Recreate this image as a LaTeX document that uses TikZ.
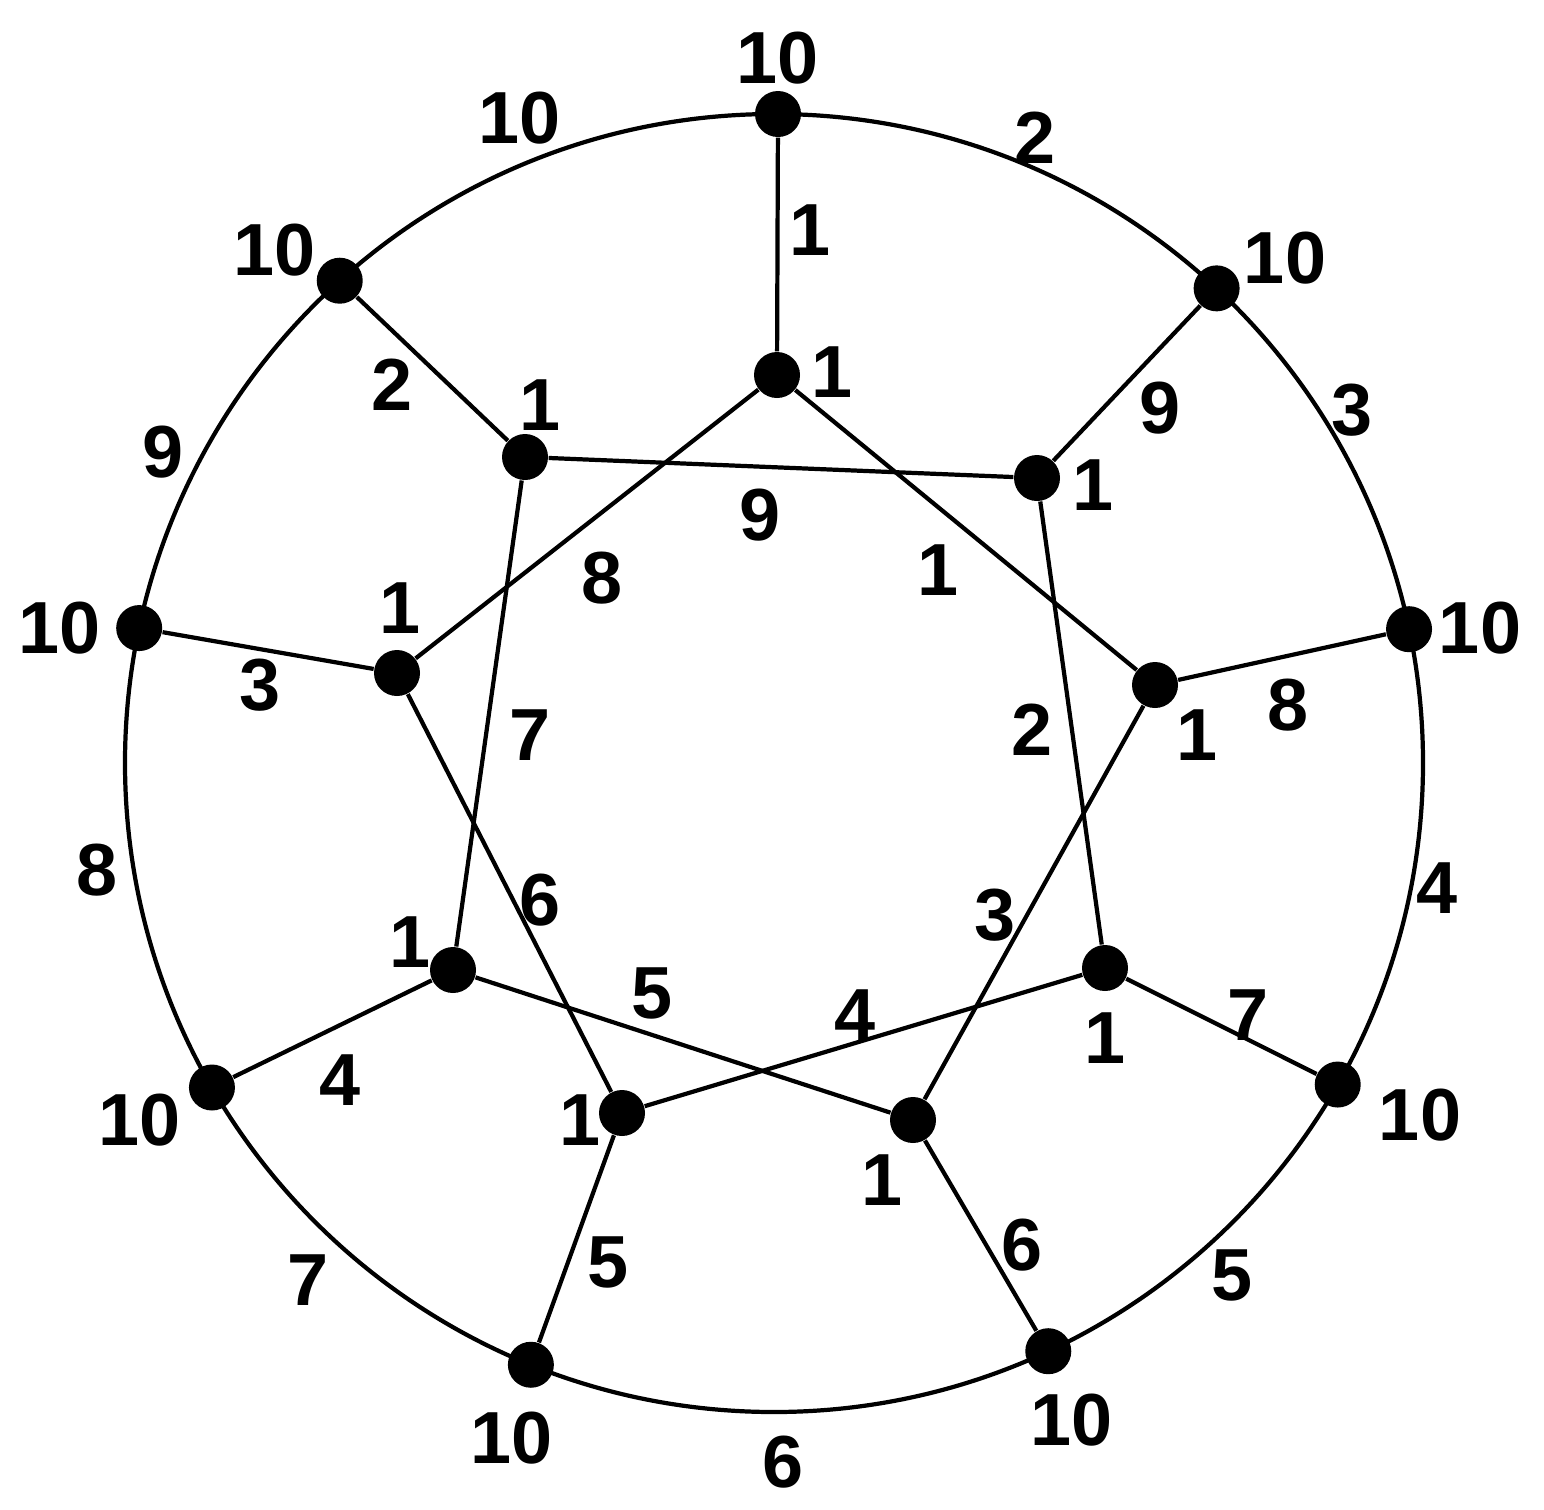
\documentclass[tikz,border=0pt]{standalone}
\usepackage{fontspec}
\setmainfont{Liberation Sans}
\usetikzlibrary{calc}
\begin{document}
\begin{tikzpicture}[
  dot/.style={circle,fill=black,inner sep=0pt,minimum size=0.46cm},
  lbl/.style={font=\fontsize{21}{25}\selectfont\bfseries,inner sep=0pt},
  edge/.style={line width=1.2pt}
]
\useasboundingbox (0,0) rectangle (15.44,-15.09);
\coordinate (c) at (7.74,-7.63);
\draw[edge] (c) circle (6.49);
% outer nodes
\node[dot] (o1) at (7.78,-1.14) {};
\node[dot] (o2) at ($(c)+(47:6.49)$) {};
\node[dot] (o3) at ($(c)+(11.9:6.49)$) {};
\node[dot] (o4) at ($(c)+(-29.7:6.49)$) {};
\node[dot] (o5) at ($(c)+(-65:6.49)$) {};
\node[dot] (o6) at ($(c)+(-112:6.49)$) {};
\node[dot] (o7) at ($(c)+(-150:6.49)$) {};
\node[dot] (o8) at ($(c)+(168:6.49)$) {};
\node[dot] (o9) at ($(c)+(132:6.49)$) {};
% inner nodes
\node[dot] (i1) at (7.77,-3.75) {};
\node[dot] (i2) at (10.37,-4.78) {};
\node[dot] (i3) at (11.55,-6.85) {};
\node[dot] (i4) at (11.05,-9.68) {};
\node[dot] (i5) at (9.13,-11.20) {};
\node[dot] (i6) at (6.22,-11.13) {};
\node[dot] (i7) at (4.53,-9.70) {};
\node[dot] (i8) at (3.97,-6.73) {};
\node[dot] (i9) at (5.25,-4.57) {};
% spokes
\draw[edge] (o1) -- (i1);
\draw[edge] (o2) -- (i2);
\draw[edge] (o3) -- (i3);
\draw[edge] (o4) -- (i4);
\draw[edge] (o5) -- (i5);
\draw[edge] (o6) -- (i6);
\draw[edge] (o7) -- (i7);
\draw[edge] (o8) -- (i8);
\draw[edge] (o9) -- (i9);
% inner edges
\draw[edge] (i9) -- (i2);
\draw[edge] (i1) -- (i8);
\draw[edge] (i1) -- (i3);
\draw[edge] (i2) -- (i4);
\draw[edge] (i3) -- (i5);
\draw[edge] (i4) -- (i6);
\draw[edge] (i7) -- (i5);
\draw[edge] (i8) -- (i6);
\draw[edge] (i9) -- (i7);
% outer node labels
\node[lbl] (lo1) at (7.78,-0.58) {10};
\node[lbl] (lo2) at (12.85,-2.58) {10};
\node[lbl] (lo3) at (14.80,-6.28) {10};
\node[lbl] (lo4) at (14.20,-11.15) {10};
\node[lbl] (lo5) at (10.72,-14.20) {10};
\node[lbl] (lo6) at (5.12,-14.38) {10};
\node[lbl] (lo7) at (1.40,-11.20) {10};
\node[lbl] (lo8) at (0.60,-6.28) {10};
\node[lbl] (lo9) at (2.75,-2.50) {10};
% inner node labels
\node[lbl] (li1) at (8.32,-3.72) {1};
\node[lbl] (li2) at (10.93,-4.85) {1};
\node[lbl] (li3) at (11.97,-7.35) {1};
\node[lbl] (li4) at (11.05,-10.38) {1};
\node[lbl] (li5) at (8.82,-11.80) {1};
\node[lbl] (li6) at (5.80,-11.20) {1};
\node[lbl] (li7) at (4.10,-9.42) {1};
\node[lbl] (li8) at (4.00,-6.08) {1};
\node[lbl] (li9) at (5.40,-4.05) {1};
% spoke labels
\node[lbl] (ls1) at (8.10,-2.30) {1};
\node[lbl] (ls2) at (11.60,-4.08) {9};
\node[lbl] (ls3) at (12.88,-7.05) {8};
\node[lbl] (ls4) at (12.48,-10.15) {7};
\node[lbl] (ls5) at (10.22,-12.45) {6};
\node[lbl] (ls6) at (6.08,-12.62) {5};
\node[lbl] (ls7) at (3.40,-10.80) {4};
\node[lbl] (ls8) at (2.60,-6.85) {3};
\node[lbl] (ls9) at (3.92,-3.85) {2};
% inner edge labels
\node[lbl] (le1) at (7.60,-5.15) {9};
\node[lbl] (le2) at (6.02,-5.78) {8};
\node[lbl] (le3) at (9.38,-5.70) {1};
\node[lbl] (le4) at (10.32,-7.30) {2};
\node[lbl] (le5) at (9.95,-9.15) {3};
\node[lbl] (le6) at (8.55,-10.15) {4};
\node[lbl] (le7) at (6.52,-9.93) {5};
\node[lbl] (le8) at (5.40,-9.00) {6};
\node[lbl] (le9) at (5.30,-7.35) {7};
% outer arc labels
\node[lbl] (la1) at (5.20,-1.18) {10};
\node[lbl] (la2) at (10.35,-1.38) {2};
\node[lbl] (la3) at (13.52,-4.10) {3};
\node[lbl] (la4) at (14.37,-8.88) {4};
\node[lbl] (la5) at (12.32,-12.75) {5};
\node[lbl] (la6) at (7.83,-14.62) {6};
\node[lbl] (la7) at (3.08,-12.80) {7};
\node[lbl] (la8) at (0.97,-8.70) {8};
\node[lbl] (la9) at (1.63,-4.52) {9};
\end{tikzpicture}
\end{document}
